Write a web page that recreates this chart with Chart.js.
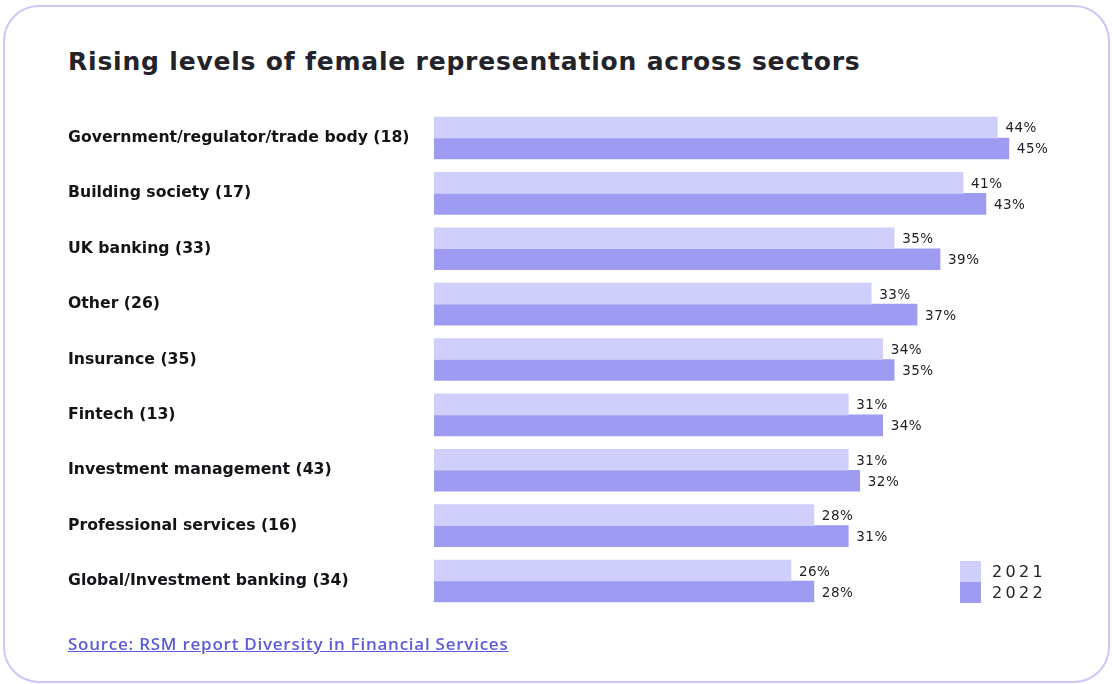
<!DOCTYPE html>
<html>
<head>
<meta charset="utf-8">
<script src="https://cdn.jsdelivr.net/npm/chart.js@4/dist/chart.umd.min.js"></script>
<style>
  html, body { margin: 0; padding: 0; background: #fff; width: 1112px; height: 684px; overflow: hidden; }
  .card { position: absolute; left: 3px; top: 5px; width: 1107px; height: 678px; box-sizing: border-box;
          border: 2px solid #c9c8f7; border-radius: 36px; }
  .title { position: absolute; left: 68px; top: 44px; font-family: "DejaVu Sans", sans-serif; font-weight: bold;
           font-size: 25px; line-height: 36px; color: #232329; white-space: nowrap; letter-spacing: 0.8px; }
  .legend { position: absolute; left: 960px; font-family: "DejaVu Sans", sans-serif; font-size: 16px;
            color: #232329; letter-spacing: 3.3px; font-weight: 500; }
  .legend .sw { position: absolute; left: 0; width: 21px; height: 21px; }
  .legend .lb { position: absolute; left: 32px; line-height: 21px; white-space: nowrap; }
  .source { position: absolute; left: 68px; top: 631px; font-family: "Open Sans", sans-serif; font-weight: 600;
            font-size: 17px; line-height: 26px; color: #5d5bd8; text-decoration: underline; white-space: nowrap;
            letter-spacing: 0.75px; }
  canvas { position: absolute; left: 0; top: 0; }
</style>
</head>
<body>
<div class="card"></div>
<div class="title">Rising levels of female representation across sectors</div>
<canvas id="c" width="1112" height="684"></canvas>
<div class="legend" id="legend" style="top:561px"></div>
<a class="source">Source: RSM report Diversity in Financial Services</a>
<script>
const categories = [
  "Government/regulator/trade body (18)",
  "Building society (17)",
  "UK banking (33)",
  "Other (26)",
  "Insurance (35)",
  "Fintech (13)",
  "Investment management (43)",
  "Professional services (16)",
  "Global/Investment banking (34)"
];
const seriesNames = ["2021", "2022"];
const values2021 = [44, 41, 35, 33, 34, 31, 31, 28, 26];
const values2022 = [45, 43, 39, 37, 35, 34, 32, 31, 28];
const colors = ["#d0cffb", "#9d9cf2"];

const xMin = -5.12, xMax = 50;

// legend (HTML)
const leg = document.getElementById('legend');
seriesNames.forEach((n, i) => {
  const sw = document.createElement('div');
  sw.className = 'sw'; sw.style.top = (i * 20.5) + 'px'; sw.style.background = colors[i];
  const lb = document.createElement('div');
  lb.className = 'lb'; lb.style.top = (i * 20.5) + 'px'; lb.textContent = n;
  leg.appendChild(sw); leg.appendChild(lb);
});

const valueLabels = {
  id: 'valueLabels',
  afterDatasetsDraw(chart) {
    const ctx = chart.ctx;
    ctx.save();
    ctx.font = '500 13.5px "DejaVu Sans", sans-serif';
    ctx.letterSpacing = '0.5px';
    ctx.fillStyle = '#1d1d22';
    ctx.textAlign = 'left';
    ctx.textBaseline = 'middle';
    chart.data.datasets.forEach((ds, di) => {
      const meta = chart.getDatasetMeta(di);
      meta.data.forEach((el, i) => {
        ctx.fillText(ds.data[i] + '%', el.x + 8, el.y + 1.5);
      });
    });
    ctx.restore();
  }
};

new Chart(document.getElementById('c'), {
  type: 'bar',
  data: {
    labels: categories,
    datasets: [
      { label: seriesNames[0], data: values2021, backgroundColor: colors[0], base: xMin, barThickness: 21 },
      { label: seriesNames[1], data: values2022, backgroundColor: colors[1], base: xMin, barThickness: 21 }
    ]
  },
  options: {
    indexAxis: 'y',
    responsive: false,
    animation: false,
    devicePixelRatio: 1,
    layout: { padding: { left: 68, top: 110.3, bottom: 75.3, right: 45.8 } },
    plugins: { legend: { display: false }, tooltip: { enabled: false }, title: { display: false } },
    scales: {
      x: { display: false, min: xMin, max: xMax },
      y: {
        grid: { display: false },
        border: { display: false },
        ticks: {
          crossAlign: 'far',
          padding: 0,
          color: '#141418',
          font: { family: '"DejaVu Sans", sans-serif', size: 15.7, weight: '600' }
        },
        afterFit(scale) { scale.width = 366; }
      }
    }
  },
  plugins: [valueLabels]
});
</script>
</body>
</html>
